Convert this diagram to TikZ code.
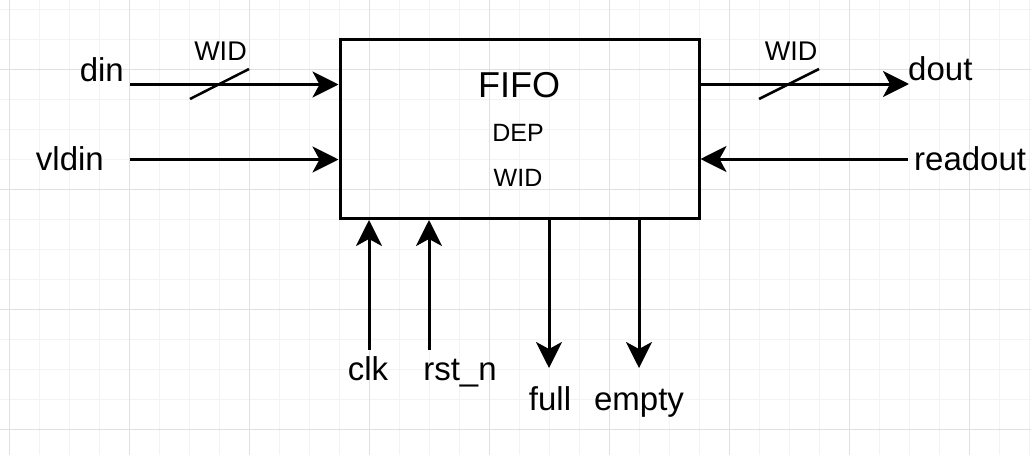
\documentclass[tikz,border=0pt]{standalone}
\usepackage{fontspec}
\setmainfont{Liberation Sans}
\usetikzlibrary{arrows.meta}
\definecolor{gridminor}{HTML}{F3F3F3}
\definecolor{gridmajor}{HTML}{E0E0E0}

\begin{document}
\begin{tikzpicture}[x=1pt,y=-1pt]
\tikzstyle{sig}=[line width=3pt,-{Stealth[length=26pt,width=26pt,inset=7pt]}]
\tikzstyle{bus}=[line width=2.5pt]
\tikzstyle{pin}=[inner sep=0pt,font=\fontsize{33}{38}\selectfont]
\tikzstyle{buslbl}=[inner sep=0pt,font=\fontsize{27}{32}\selectfont]
\tikzstyle{param}=[inner sep=0pt,font=\fontsize{25}{30}\selectfont]
\useasboundingbox (0,0) rectangle (1031,455);
\fill[white] (0,0) rectangle (1031,455);
% background grid
\foreach \i in {0,...,34} \draw[line width=1pt,gridminor] (9.5+30*\i,0) -- (9.5+30*\i,455);
\foreach \j in {0,...,14} \draw[line width=1pt,gridminor] (0,9.3+30*\j) -- (1031,9.3+30*\j);
\foreach \i in {0,...,8} \draw[line width=1pt,gridmajor] (9.5+120*\i,0) -- (9.5+120*\i,455);
\foreach \j in {0,...,3} \draw[line width=1pt,gridmajor] (0,69.3+120*\j) -- (1031,69.3+120*\j);
% the block
\node[draw,line width=3pt,minimum width=359pt,minimum height=179pt,inner sep=0pt] (fifo) at (519.5,129) {};
\node[anchor=base,inner sep=0pt,font=\fontsize{36}{42}\selectfont] (title) at (519,97.3) {FIFO};
\node[param,anchor=base] (dep) at (518,141.7) {DEP};
\node[param,anchor=base] (wid) at (518,186) {WID};
% pin ends
\coordinate (pdin) at (130,84.5);
\coordinate (pvldin) at (130,159.5);
\coordinate (pdout) at (909,84);
\coordinate (preadout) at (908,159);
\coordinate (pclk) at (369,350);
\coordinate (prstn) at (429,350);
\coordinate (pfull) at (549,368);
\coordinate (pempty) at (639,368);
% pin names
\node[pin,anchor=base east] (din) at (124,81) {din};
\node[pin,anchor=base east] (vldin) at (104,170) {vldin};
\node[pin,anchor=base west] (dout) at (908,80) {dout};
\node[pin,anchor=base west] (readout) at (914,170) {readout};
\node[pin,anchor=base] (clk) at (368,380) {clk};
\node[pin,anchor=base] (rstn) at (460,380) {rst\_n};
\node[pin,anchor=base] (full) at (550,410) {full};
\node[pin,anchor=base] (empty) at (639,410) {empty};
\node[buslbl,anchor=base] (dinw) at (220.5,60) {WID};
\node[buslbl,anchor=base] (doutw) at (791,60) {WID};
% connectors
\draw[sig] (pdin) -- (pdin -| fifo.west);
\draw[sig] (pvldin) -- (pvldin -| fifo.west);
\draw[sig] (pdout -| fifo.east) -- (pdout);
\draw[sig] (preadout) -- (preadout -| fifo.east);
\draw[sig] (pclk) -- (pclk |- fifo.south);
\draw[sig] (prstn) -- (prstn |- fifo.south);
\draw[sig] (pfull |- fifo.south) -- (pfull);
\draw[sig] (pempty |- fifo.south) -- (pempty);
% bus width marks
\draw[bus] (219.5,84.5) +(-29.5,14.5) -- +(29.5,-15.5);
\draw[bus] (789,84) +(-30,15) -- +(30,-15);
\end{tikzpicture}
\end{document}
